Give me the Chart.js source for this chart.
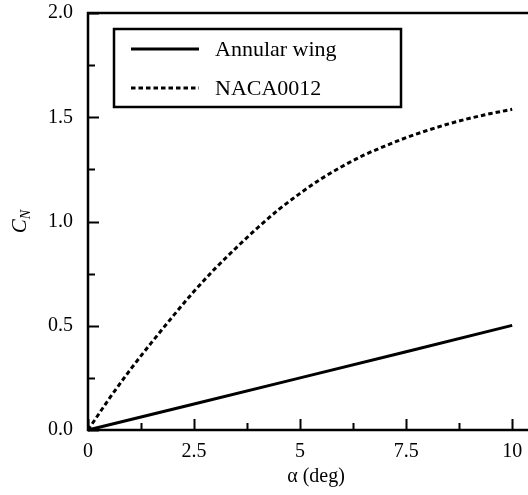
<!DOCTYPE html>
<html>
<head>
<meta charset="utf-8">
<script src="https://cdn.jsdelivr.net/npm/chart.js@4.4.0/dist/chart.umd.min.js"></script>
<style>
  html, body { margin: 0; padding: 0; background: #fff; overflow: hidden; }
  .wrap { width: 560px; height: 495px; }
</style>
</head>
<body>
<div class="wrap"><canvas id="myChart" width="560" height="495"></canvas></div>
<script>
// angle of attack (deg) and normal force coefficient
const alpha = [0, 0.5, 1, 1.5, 2, 2.5, 3, 3.5, 4, 4.5, 5, 5.5, 6, 6.5, 7, 7.5, 8, 8.5, 9, 9.5, 10];
const naca = [0, 0.15, 0.29, 0.42, 0.545, 0.665, 0.775, 0.875, 0.97, 1.058, 1.135, 1.205, 1.265, 1.318, 1.362, 1.402, 1.437, 1.468, 1.495, 1.518, 1.538];
const annularAlpha = [0, 2.5, 5, 7.5, 10];
const annular = [0, 0.125, 0.25, 0.375, 0.502];

const xTicks = [0, 1.25, 2.5, 3.75, 5, 6.25, 7.5, 8.75, 10];
const xMajor = [0, 2.5, 5, 7.5, 10];
const xLabels = ['0', '2.5', '5', '7.5', '10'];
const yTicks = [0, 0.25, 0.5, 0.75, 1, 1.25, 1.5, 1.75, 2];
const yMajor = [0, 0.5, 1, 1.5, 2];
const yLabels = ['0.0', '0.5', '1.0', '1.5', '2.0'];

const serif = "'Liberation Serif', 'Times New Roman', serif";

function toPoints(xs, ys) {
    return xs.map((x, i) => ({ x: x, y: ys[i] }));
}

// keep the plot box where the reference has it
function noPadding(s) {
    s.paddingTop = 0;
    s.paddingBottom = 0;
    s.paddingLeft = 0;
    s.paddingRight = 0;
}

// frame, inward ticks, legend box and y title
const decorations = {
    id: 'decorations',
    afterDraw(chart) {
        const ctx = chart.ctx;
        const a = chart.chartArea;
        const xs = chart.scales.x, ys = chart.scales.y;
        ctx.save();
        ctx.strokeStyle = '#000';
        ctx.lineWidth = 2.5;
        ctx.strokeRect(a.left, a.top, a.right - a.left, a.bottom - a.top);

        ctx.lineWidth = 2;
        ctx.beginPath();
        xTicks.forEach(v => {
            const px = Math.round(xs.getPixelForValue(v)) + 0.5;
            const len = xMajor.includes(v) ? 11 : 7;
            ctx.moveTo(px, a.bottom);
            ctx.lineTo(px, a.bottom - len);
        });
        yTicks.forEach(v => {
            const py = Math.round(ys.getPixelForValue(v)) + 0.5;
            const len = yMajor.includes(v) ? 11 : 7;
            ctx.moveTo(a.left, py);
            ctx.lineTo(a.left + len, py);
        });
        ctx.stroke();

        // legend
        ctx.lineWidth = 2.5;
        ctx.strokeRect(114, 29, 287, 78);
        ctx.font = '22px ' + serif;
        ctx.fillStyle = '#000';
        ctx.textBaseline = 'middle';
        ctx.textAlign = 'left';
        chart.data.datasets.forEach((ds, i) => {
            const y = 49 + i * 39;
            ctx.lineWidth = ds.borderWidth;
            ctx.setLineDash(ds.borderDash || []);
            ctx.beginPath();
            ctx.moveTo(131, y);
            ctx.lineTo(199, y);
            ctx.stroke();
            ctx.setLineDash([]);
            ctx.fillText(ds.label, 215, y + 1);
        });

        // y axis title C_N
        ctx.translate(26, (a.top + a.bottom) / 2);
        ctx.rotate(-Math.PI / 2);
        ctx.textBaseline = 'alphabetic';
        ctx.font = 'italic 21px ' + serif;
        const wc = ctx.measureText('C').width;
        ctx.font = 'italic 14px ' + serif;
        const wn = ctx.measureText('N').width;
        const x0 = -(wc + wn) / 2;
        ctx.font = 'italic 21px ' + serif;
        ctx.fillText('C', x0, 0);
        ctx.font = 'italic 14px ' + serif;
        ctx.fillText('N', x0 + wc, 4);
        ctx.restore();
    }
};

const ctx = document.getElementById('myChart').getContext('2d');
const myChart = new Chart(ctx, {
    type: 'line',
    data: {
        datasets: [{
            label: 'Annular wing',
            data: toPoints(annularAlpha, annular),
            borderColor: '#000',
            borderWidth: 3,
            pointRadius: 0,
            clip: false
        }, {
            label: 'NACA0012',
            data: toPoints(alpha, naca),
            borderColor: '#000',
            borderWidth: 3,
            borderDash: [4.5, 3],
            pointRadius: 0,
            cubicInterpolationMode: 'monotone',
            clip: false
        }]
    },
    options: {
        responsive: false,
        animation: false,
        devicePixelRatio: 1,
        layout: { padding: { top: 13, right: 16, left: 0, bottom: 0 } },
        plugins: {
            legend: { display: false },
            tooltip: { enabled: false }
        },
        scales: {
            x: {
                type: 'linear',
                min: 0,
                max: 10.75,
                afterBuildTicks: s => { s.ticks = xTicks.map(v => ({ value: v })); },
                afterFit: s => { s.height = 65; noPadding(s); },
                grid: { display: false, drawTicks: false },
                border: { display: false },
                ticks: {
                    autoSkip: false,
                    maxRotation: 0,
                    padding: 10,
                    color: '#000',
                    font: { family: serif, size: 20 },
                    callback: v => xMajor.includes(v) ? xLabels[xMajor.indexOf(v)] : ''
                },
                title: {
                    display: true,
                    text: 'α (deg)',
                    color: '#000',
                    font: { family: serif, size: 20 },
                    padding: { top: 0, bottom: 6 }
                }
            },
            y: {
                type: 'linear',
                min: 0,
                max: 2,
                afterBuildTicks: s => { s.ticks = yTicks.map(v => ({ value: v })); },
                afterFit: s => { s.width = 88; noPadding(s); },
                grid: { display: false, drawTicks: false },
                border: { display: false },
                ticks: {
                    autoSkip: false,
                    padding: 15,
                    color: '#000',
                    font: { family: serif, size: 20 },
                    callback: v => yMajor.includes(v) ? yLabels[yMajor.indexOf(v)] : ''
                }
            }
        }
    },
    plugins: [decorations]
});
</script>
</body>
</html>
